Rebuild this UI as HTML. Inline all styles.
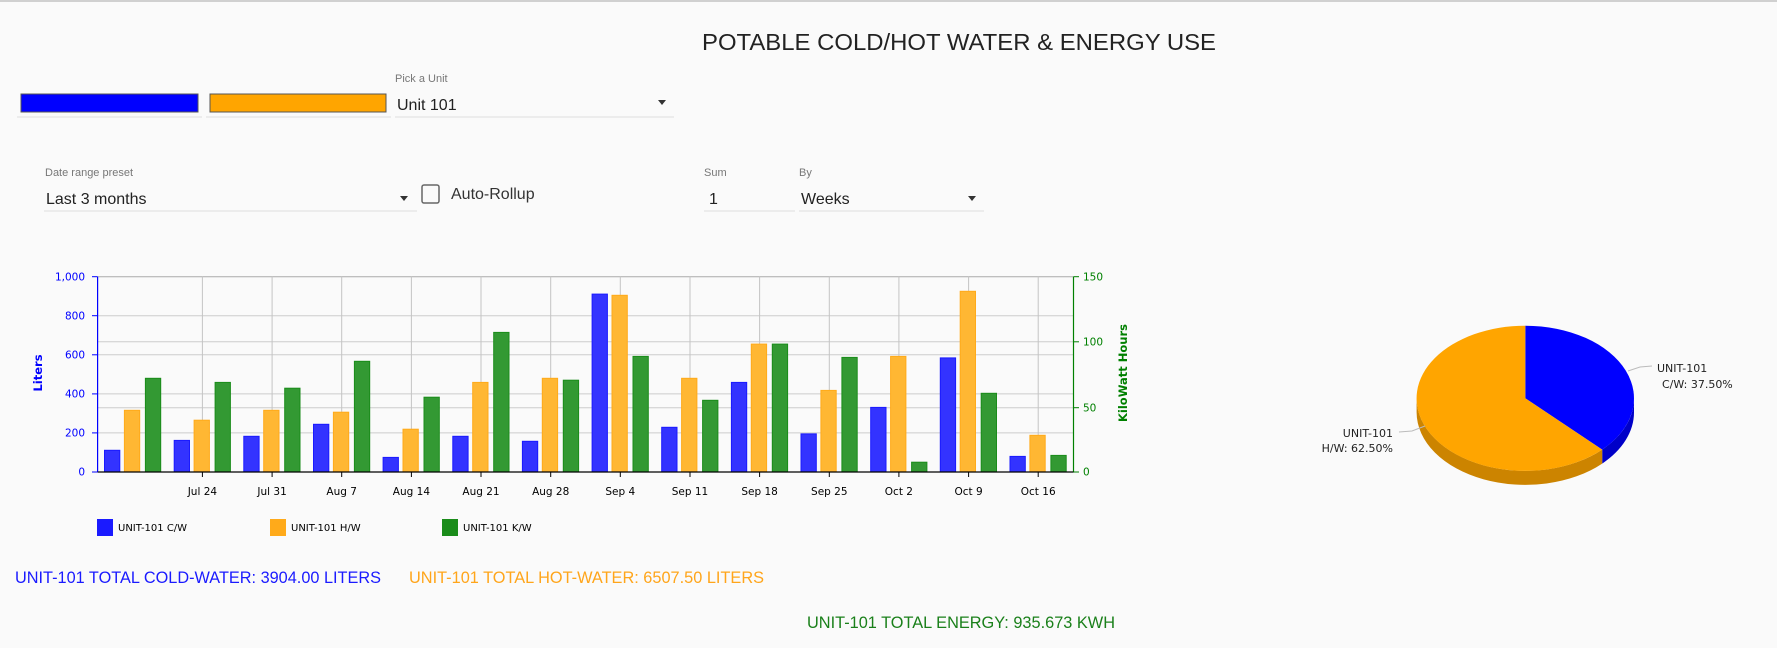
<!DOCTYPE html>
<html><head><meta charset="utf-8"><style>
html,body{margin:0;padding:0;background:#fafafa;}
svg{display:block;}
</style></head><body>
<svg width="1777" height="648" xmlns="http://www.w3.org/2000/svg" font-family="'Liberation Sans', sans-serif">
<rect width="1777" height="648" fill="#fafafa"/>
<rect x="0" y="0" width="1777" height="2" fill="#d0d0d0"/>
<text x="702" y="50" font-size="23.5" fill="#222" textLength="514" lengthAdjust="spacingAndGlyphs">POTABLE COLD/HOT WATER &amp; ENERGY USE</text>

<!-- controls row 1 -->
<rect x="21" y="94" width="177" height="18" fill="#0000ff" stroke="#555" stroke-width="1"/>
<rect x="210" y="94" width="176" height="18" fill="#ffa500" stroke="#555" stroke-width="1"/>
<rect x="17" y="116.5" width="185" height="1" fill="#ddd"/>
<rect x="206" y="116.5" width="185" height="1" fill="#ddd"/>
<rect x="395" y="116.5" width="279" height="1" fill="#ddd"/>
<text x="395" y="82" font-size="11" fill="#777">Pick a Unit</text>
<text x="397" y="110" font-size="16" fill="#222">Unit 101</text>
<path d="M658 100 L666 100 L662 105 Z" fill="#333"/>

<!-- controls row 2 -->
<text x="45" y="176" font-size="11" fill="#777">Date range preset</text>
<text x="46" y="204" font-size="16" fill="#222">Last 3 months</text>
<path d="M400 196 L408 196 L404 201 Z" fill="#333"/>
<rect x="44" y="210.5" width="373" height="1" fill="#ddd"/>
<rect x="422" y="185" width="17" height="18" rx="2" fill="none" stroke="#666" stroke-width="1.5"/>
<text x="451" y="199" font-size="16" fill="#333">Auto-Rollup</text>
<text x="704" y="176" font-size="11" fill="#777">Sum</text>
<text x="709" y="204" font-size="16" fill="#222">1</text>
<rect x="704" y="210.5" width="91" height="1" fill="#ddd"/>
<text x="799" y="176" font-size="11" fill="#777">By</text>
<text x="801" y="204" font-size="16" fill="#222">Weeks</text>
<path d="M968 196 L976 196 L972 201 Z" fill="#333"/>
<rect x="799" y="210.5" width="185" height="1" fill="#ddd"/>

<!-- chart grid -->
<g stroke="#ccc" stroke-width="1">
<line x1="97.6" y1="276.7" x2="1073.5" y2="276.7" stroke="#aaa"/>
<line x1="97.6" y1="315.7" x2="1073.5" y2="315.7"/>
<line x1="97.6" y1="341.8" x2="1073.5" y2="341.8"/>
<line x1="97.6" y1="354.8" x2="1073.5" y2="354.8"/>
<line x1="97.6" y1="393.9" x2="1073.5" y2="393.9"/>
<line x1="97.6" y1="407.7" x2="1073.5" y2="407.7"/>
<line x1="97.6" y1="432.9" x2="1073.5" y2="432.9"/>
</g>
<g stroke="#c4c4c4" stroke-width="1">
<line x1="202.4" y1="276.7" x2="202.4" y2="472"/><line x1="272.1" y1="276.7" x2="272.1" y2="472"/>
<line x1="341.7" y1="276.7" x2="341.7" y2="472"/><line x1="411.4" y1="276.7" x2="411.4" y2="472"/>
<line x1="481" y1="276.7" x2="481" y2="472"/><line x1="550.7" y1="276.7" x2="550.7" y2="472"/>
<line x1="620.3" y1="276.7" x2="620.3" y2="472"/><line x1="690" y1="276.7" x2="690" y2="472"/>
<line x1="759.6" y1="276.7" x2="759.6" y2="472"/><line x1="829.3" y1="276.7" x2="829.3" y2="472"/>
<line x1="898.9" y1="276.7" x2="898.9" y2="472"/><line x1="968.6" y1="276.7" x2="968.6" y2="472"/>
<line x1="1038.2" y1="276.7" x2="1038.2" y2="472"/>
</g>

<!-- bars -->
<g fill="#3333ff" stroke="#1a1aff" stroke-width="1">
<rect x="104.5" y="450.3" width="15.3" height="21.7"/>
<rect x="174.2" y="440.4" width="15.3" height="31.6"/>
<rect x="243.8" y="436.3" width="15.3" height="35.7"/>
<rect x="313.5" y="424.3" width="15.3" height="47.7"/>
<rect x="383.1" y="457.4" width="15.3" height="14.6"/>
<rect x="452.8" y="436.3" width="15.3" height="35.7"/>
<rect x="522.4" y="441.3" width="15.3" height="30.7"/>
<rect x="592.1" y="294.1" width="15.3" height="177.9"/>
<rect x="661.7" y="427.3" width="15.3" height="44.7"/>
<rect x="731.4" y="382.4" width="15.3" height="89.6"/>
<rect x="801" y="433.9" width="15.3" height="38.1"/>
<rect x="870.7" y="407.4" width="15.3" height="64.6"/>
<rect x="940.3" y="357.9" width="15.3" height="114.1"/>
<rect x="1010" y="456.4" width="15.3" height="15.6"/>
</g>
<g fill="#ffb733" stroke="#ffaa1a" stroke-width="1">
<rect x="124.4" y="410.3" width="15.3" height="61.7"/>
<rect x="194.1" y="420.2" width="15.3" height="51.8"/>
<rect x="263.7" y="410.3" width="15.3" height="61.7"/>
<rect x="333.4" y="412.2" width="15.3" height="59.8"/>
<rect x="403" y="429.2" width="15.3" height="42.8"/>
<rect x="472.7" y="382.4" width="15.3" height="89.6"/>
<rect x="542.3" y="378.3" width="15.3" height="93.7"/>
<rect x="612" y="295.3" width="15.3" height="176.7"/>
<rect x="681.6" y="378.3" width="15.3" height="93.7"/>
<rect x="751.3" y="344.1" width="15.3" height="127.9"/>
<rect x="820.9" y="390.4" width="15.3" height="81.6"/>
<rect x="890.6" y="356.4" width="15.3" height="115.6"/>
<rect x="960.2" y="291.3" width="15.3" height="180.7"/>
<rect x="1029.9" y="435.3" width="15.3" height="36.7"/>
</g>
<g fill="#339933" stroke="#1a8c1a" stroke-width="1">
<rect x="145.4" y="378.3" width="15.3" height="93.7"/>
<rect x="215.1" y="382.4" width="15.3" height="89.6"/>
<rect x="284.7" y="388.2" width="15.3" height="83.8"/>
<rect x="354.4" y="361.3" width="15.3" height="110.7"/>
<rect x="424" y="397.2" width="15.3" height="74.8"/>
<rect x="493.7" y="332.4" width="15.3" height="139.6"/>
<rect x="563.3" y="380.2" width="15.3" height="91.8"/>
<rect x="633" y="356.4" width="15.3" height="115.6"/>
<rect x="702.6" y="400.3" width="15.3" height="71.7"/>
<rect x="772.3" y="344.1" width="15.3" height="127.9"/>
<rect x="841.9" y="357.4" width="15.3" height="114.6"/>
<rect x="911.6" y="462.2" width="15.3" height="9.8"/>
<rect x="981.2" y="393.3" width="15.3" height="78.7"/>
<rect x="1050.9" y="455.4" width="15.3" height="16.6"/>
</g>

<!-- axes -->
<line x1="97.6" y1="276.7" x2="97.6" y2="472" stroke="#0000ff" stroke-width="1.2"/>
<line x1="1073.5" y1="276.7" x2="1073.5" y2="472" stroke="#008000" stroke-width="1.2"/>
<line x1="97.6" y1="472" x2="1073.5" y2="472" stroke="#000" stroke-width="1.2"/>
<g stroke="#0000ff"><line x1="92" y1="276.7" x2="97.6" y2="276.7"/><line x1="92" y1="315.7" x2="97.6" y2="315.7"/><line x1="92" y1="354.8" x2="97.6" y2="354.8"/><line x1="92" y1="393.9" x2="97.6" y2="393.9"/><line x1="92" y1="432.9" x2="97.6" y2="432.9"/><line x1="92" y1="472" x2="97.6" y2="472"/></g>
<g stroke="#008000"><line x1="1073.5" y1="276.7" x2="1079" y2="276.7"/><line x1="1073.5" y1="341.8" x2="1079" y2="341.8"/><line x1="1073.5" y1="407.7" x2="1079" y2="407.7"/><line x1="1073.5" y1="472" x2="1079" y2="472"/></g>
<g stroke="#000"><line x1="202.4" y1="472" x2="202.4" y2="477"/><line x1="272.1" y1="472" x2="272.1" y2="477"/><line x1="341.7" y1="472" x2="341.7" y2="477"/><line x1="411.4" y1="472" x2="411.4" y2="477"/><line x1="481" y1="472" x2="481" y2="477"/><line x1="550.7" y1="472" x2="550.7" y2="477"/><line x1="620.3" y1="472" x2="620.3" y2="477"/><line x1="690" y1="472" x2="690" y2="477"/><line x1="759.6" y1="472" x2="759.6" y2="477"/><line x1="829.3" y1="472" x2="829.3" y2="477"/><line x1="898.9" y1="472" x2="898.9" y2="477"/><line x1="968.6" y1="472" x2="968.6" y2="477"/><line x1="1038.2" y1="472" x2="1038.2" y2="477"/></g>

<g font-family="'DejaVu Sans', sans-serif" font-size="10.5">
<g fill="#0000ff" text-anchor="end"><text x="85" y="280.5">1,000</text><text x="85" y="319.5">800</text><text x="85" y="358.5">600</text><text x="85" y="397.5">400</text><text x="85" y="436.5">200</text><text x="85" y="475.5">0</text></g>
<g fill="#008000"><text x="1083" y="280.5">150</text><text x="1083" y="345.5">100</text><text x="1083" y="411.5">50</text><text x="1083" y="475.5">0</text></g>
<g fill="#000" text-anchor="middle"><text x="202.4" y="495">Jul 24</text><text x="272.1" y="495">Jul 31</text><text x="341.7" y="495">Aug 7</text><text x="411.4" y="495">Aug 14</text><text x="481" y="495">Aug 21</text><text x="550.7" y="495">Aug 28</text><text x="620.3" y="495">Sep 4</text><text x="690" y="495">Sep 11</text><text x="759.6" y="495">Sep 18</text><text x="829.3" y="495">Sep 25</text><text x="898.9" y="495">Oct 2</text><text x="968.6" y="495">Oct 9</text><text x="1038.2" y="495">Oct 16</text></g>
<text transform="translate(42,373) rotate(-90)" text-anchor="middle" font-weight="bold" font-size="11.5" fill="#0000ff">Liters</text>
<text transform="translate(1127,373) rotate(-90)" text-anchor="middle" font-weight="bold" font-size="11.5" fill="#008000">KiloWatt Hours</text>
</g>

<!-- legend -->
<rect x="97" y="519" width="16" height="17" fill="#1a1aff"/>
<rect x="270" y="519" width="16" height="17" fill="#ffaa1a"/>
<rect x="442" y="519" width="16" height="17" fill="#1a8c1a"/>
<g font-family="'DejaVu Sans', sans-serif" font-size="10" fill="#000">
<text x="118" y="531">UNIT-101 C/W</text><text x="291" y="531">UNIT-101 H/W</text><text x="463" y="531">UNIT-101 K/W</text>
</g>

<!-- totals -->
<text x="15" y="583" font-size="17" fill="#1a1aff" textLength="366" lengthAdjust="spacingAndGlyphs">UNIT-101 TOTAL COLD-WATER: 3904.00 LITERS</text>
<text x="409" y="583" font-size="17" fill="#ffa51a" textLength="355" lengthAdjust="spacingAndGlyphs">UNIT-101 TOTAL HOT-WATER: 6507.50 LITERS</text>
<text x="807" y="628" font-size="17" fill="#1a801a" textLength="308" lengthAdjust="spacingAndGlyphs">UNIT-101 TOTAL ENERGY: 935.673 KWH</text>

<!-- pie -->
<path d="M1634 398.3 A108.7 72.6 0 0 1 1602.2 449.6 L1602.2 463.6 A108.7 72.6 0 0 0 1634 412.3 Z" fill="#0000c8"/>
<path d="M1602.2 449.6 A108.7 72.6 0 0 1 1416.6 398.3 L1416.6 412.3 A108.7 72.6 0 0 0 1602.2 463.6 Z" fill="#cc8400"/>
<path d="M1525.3 398.3 L1525.3 325.7 A108.7 72.6 0 0 1 1602.2 449.6 Z" fill="#0000ff"/>
<path d="M1525.3 398.3 L1602.2 449.6 A108.7 72.6 0 1 1 1525.3 325.7 Z" fill="#ffa500"/>
<polyline points="1628,371 1640,367 1652,366" fill="none" stroke="#bbb"/>
<polyline points="1425,426 1412,431 1399,432" fill="none" stroke="#bbb"/>
<g font-family="'DejaVu Sans', sans-serif" font-size="11" fill="#222">
<text x="1657" y="372">UNIT-101</text><text x="1662" y="388">C/W: 37.50%</text>
<text x="1393" y="437" text-anchor="end">UNIT-101</text><text x="1393" y="452" text-anchor="end">H/W: 62.50%</text>
</g>
</svg>
</body></html>
